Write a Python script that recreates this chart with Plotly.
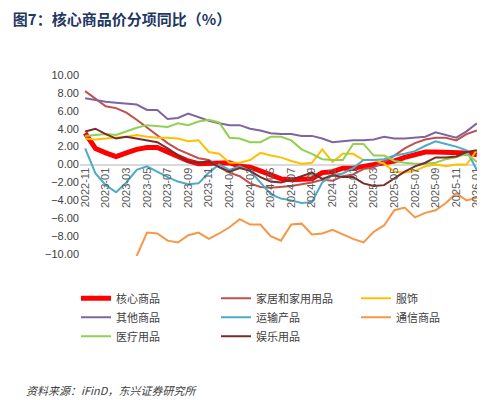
import plotly.graph_objects as go

months = ['2022-11', '2022-12'] + ['%d-%02d' % (y, m) for y in (2023, 2024, 2025) for m in range(1, 13)] + ['2026-01']
tick_labels = months[::2]

core = [3.5, 1.8, 1.3, 0.9, 1.3, 1.7, 1.9, 1.9, 1.4, 0.9, 0.4, 0.1, 0.1, 0.1, 0.2, -0.2, -0.3, -0.7, -1.2, -1.6,
        -1.7, -1.7, -1.6, -0.9, -0.8, -0.4, -0.4, -0.2, 0.0, 0.2, 0.4, 0.8, 1.1, 1.4, 1.4, 1.4, 1.3, 1.3, 1.1]
home = [8.2, 7.4, 6.5, 6.3, 5.8, 5.0, 4.1, 3.3, 2.4, 1.7, 1.2, 0.7, 0.5, -0.3, -0.9, -1.3, -2.1, -2.5, -2.6, -2.5,
        -2.4, -2.2, -2.0, -1.7, -1.8, -1.3, -1.1, -0.5, -0.3, 0.3, 1.0, 1.8, 2.4, 2.8, 3.0, 3.0, 2.7, 3.4, 3.8]
apparel = [2.9, 2.8, 2.9, 3.0, 3.1, 3.3, 3.1, 3.0, 3.0, 2.9, 2.6, 2.7, 1.4, 1.2, 0.2, 0.2, 0.5, 1.3, 1.0, 0.8,
           0.4, 0.1, 0.2, 1.7, 0.3, 1.2, 1.2, 0.5, 0.5, 0.1, -0.8, -0.9, -0.7, -0.2, 0.0, -0.2, 0.0, 0.0, 1.6]
other = [7.4, 7.2, 7.0, 6.9, 6.8, 6.7, 6.1, 6.1, 5.1, 5.2, 5.7, 5.3, 4.9, 4.6, 4.4, 4.4, 4.0, 3.8, 3.5, 3.4,
         3.4, 3.2, 3.2, 2.9, 2.5, 2.6, 2.7, 2.7, 2.8, 3.1, 2.9, 2.9, 3.0, 3.1, 3.6, 3.3, 3.0, 3.7, 4.6]
transport = [1.8, -1.0, -2.3, -3.1, -2.0, -0.6, -0.2, -0.8, -1.4, -1.9, -2.2, -2.1, -0.9, 0.0, -0.6, -0.2, -0.7, -2.0, -3.3, -3.8,
             -4.0, -4.3, -4.2, -2.0, -1.2, -1.0, -0.4, 0.5, 0.5, 0.6, 1.0, 1.2, 1.5, 2.1, 2.6, 2.3, 2.0, 1.6, -0.6]
telecom = [None] * 5 + [-10.2, -7.6, -7.7, -8.5, -8.7, -7.9, -7.6, -8.3, -7.7, -7.0, -6.1, -6.7, -6.7, -8.0, -8.5,
           -6.7, -6.6, -7.8, -7.7, -7.3, -7.8, -8.3, -8.7, -7.5, -6.8, -5.1, -4.8, -5.9, -5.4, -5.1, -4.3, -3.2, -4.0, -3.7]
medical = [3.2, 3.3, 3.4, 3.3, 3.7, 4.1, 4.4, 4.3, 4.2, 4.6, 4.4, 4.8, 5.0, 4.7, 3.0, 2.9, 2.5, 2.5, 3.1, 3.1,
           2.7, 1.7, 1.2, 0.6, 0.5, 0.5, 2.3, 2.3, 1.0, 1.0, 0.4, 0.2, 0.1, 0.1, 0.2, 0.6, 0.8, 1.2, 0.3]
leisure = [3.7, 4.0, 3.4, 2.9, 3.1, 2.9, 2.7, 2.5, 1.8, 1.0, 0.3, 0.2, 0.4, -0.3, -0.8, -0.4, -0.7, -1.4, -1.9, -2.0,
           -1.7, -1.3, -0.9, -1.6, -1.2, -1.4, -1.4, -2.1, -2.4, -2.3, -1.5, -0.8, -0.2, 0.2, 0.8, 0.8, 0.9, 1.4, 1.6]

series = [
    ('核心商品', core, '#ff0000', 5),
    ('家居和家用用品', home, '#c0504d', 2),
    ('服饰', apparel, '#ffc000', 2),
    ('其他商品', other, '#8064a2', 2),
    ('运输产品', transport, '#4bacc6', 2),
    ('通信商品', telecom, '#f79646', 2),
    ('医疗用品', medical, '#92d050', 2),
    ('娱乐用品', leisure, '#772c2a', 2),
]

fig = go.Figure()
for name, vals, color, w in series:
    fig.add_trace(go.Scatter(x=months, y=vals, name=name, mode='lines',
                             line=dict(color=color, width=w)))

fig.update_layout(
    width=485, height=400,
    margin=dict(l=72, r=11, t=67, b=136, autoexpand=False),
    paper_bgcolor='white', plot_bgcolor='white',
    font=dict(family='Noto Sans CJK SC', size=11, color='#404040'),
    showlegend=True,
    legend=dict(orientation='h', x=-0.01, y=-0.06, xanchor='left', yanchor='top',
                entrywidth=95, tracegroupgap=0, font=dict(size=11, color='#404040')),
    title=dict(text='<b>图7：核心商品价分项同比（%）</b>', x=0.01, y=0.985, xanchor='left', yanchor='top',
               font=dict(size=15, color='#1f3864')),
)
fig.update_xaxes(type='category', tickvals=tick_labels, ticktext=tick_labels, tickangle=-90,
                 anchor='free', position=12 / 22, showgrid=False, showline=False, zeroline=False,
                 ticks='', automargin=False, tickfont=dict(size=11, color='#595959', family='Liberation Sans'),
                 range=[-0.5, len(months) - 0.5])
fig.update_yaxes(range=[-12, 10], tickvals=list(range(-10, 11, 2)), automargin=False,
                 tickformat='.2f', showgrid=False, zeroline=True, zerolinecolor='#d9d9d9', zerolinewidth=2,
                 tickfont=dict(size=11, color='#404040', family='Liberation Sans'))
fig.add_annotation(text='<i>资料来源：iFinD，东兴证券研究所</i>', xref='paper', yref='paper',
                   x=-0.14, y=-0.6, xanchor='left', yanchor='middle', showarrow=False,
                   font=dict(size=11, color='#404040'))

fig.write_html("out.html")
